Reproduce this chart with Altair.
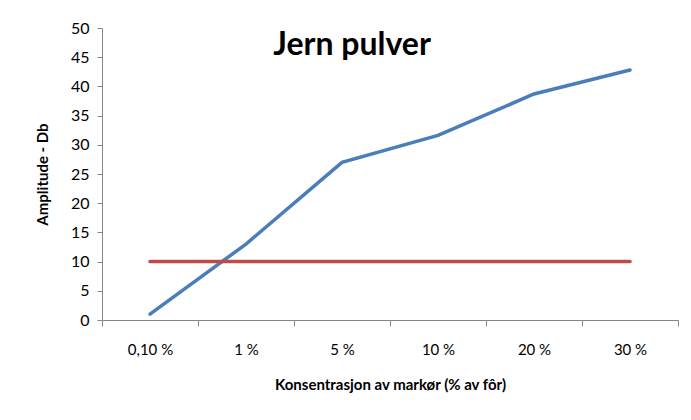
import altair as alt
import pandas as pd

categories = ["0,10 %", "1 %", "5 %", "10 %", "20 %", "30 %"]
amplitude = [1.0, 13.0, 27.0, 31.6, 38.7, 42.8]
threshold = [10, 10, 10, 10, 10, 10]
series_names = ["Amplitude", "Terskel"]
series_colors = ["#4A7EBB", "#BE4B48"]

rows = []
for c, a, t in zip(categories, amplitude, threshold):
    rows.append({"kategori": c, "verdi": a, "serie": series_names[0]})
    rows.append({"kategori": c, "verdi": t, "serie": series_names[1]})
df = pd.DataFrame(rows)

FONT = "Lato"

x = alt.X(
    "kategori:N",
    sort=categories,
    scale=alt.Scale(paddingInner=0, paddingOuter=0),
    axis=alt.Axis(
        title="Konsentrasjon av markør (% av fôr)",
        titleFont=FONT, titleFontSize=15, titleFontWeight="bold", titleColor="#000000",
        titlePadding=20,
        labelFont=FONT, labelFontSize=15, labelColor="#000000", labelAngle=0,
        labelPadding=16,
        tickBand="extent", tickSize=6, tickColor="#868686",
        domainColor="#868686", grid=False,
    ),
)
y = alt.Y(
    "verdi:Q",
    scale=alt.Scale(domain=[0, 50], nice=False),
    axis=alt.Axis(
        title="Amplitude - Db",
        titleFont=FONT, titleFontSize=15, titleFontWeight="bold", titleColor="#000000",
        titlePadding=20,
        labelFont=FONT, labelFontSize=16, labelColor="#000000",
        values=list(range(0, 51, 5)), tickSize=5, tickColor="#868686",
        domainColor="#868686", grid=False, labelPadding=8,
    ),
)

lines = alt.Chart(df).mark_line(strokeWidth=3.5, strokeCap="round").encode(
    x=x,
    y=y,
    color=alt.Color("serie:N", scale=alt.Scale(domain=series_names, range=series_colors), legend=None),
    detail="serie:N",
)

title = alt.Chart(pd.DataFrame({"t": ["Jern pulver"]})).mark_text(
    font=FONT, fontSize=32, fontWeight="bold", color="#000000", align="center", baseline="middle"
).encode(text="t:N", x=alt.value(250), y=alt.value(17))

chart = alt.layer(lines, title).properties(
    width=576,
    height=292,
    autosize=alt.AutoSizeParams(type="none"),
    padding={"left": 94, "top": 20, "right": 5, "bottom": 90},
).configure(background="#ffffff").configure_view(stroke=None)

chart.save("out.html", embed_options={"renderer": "svg", "actions": False})
